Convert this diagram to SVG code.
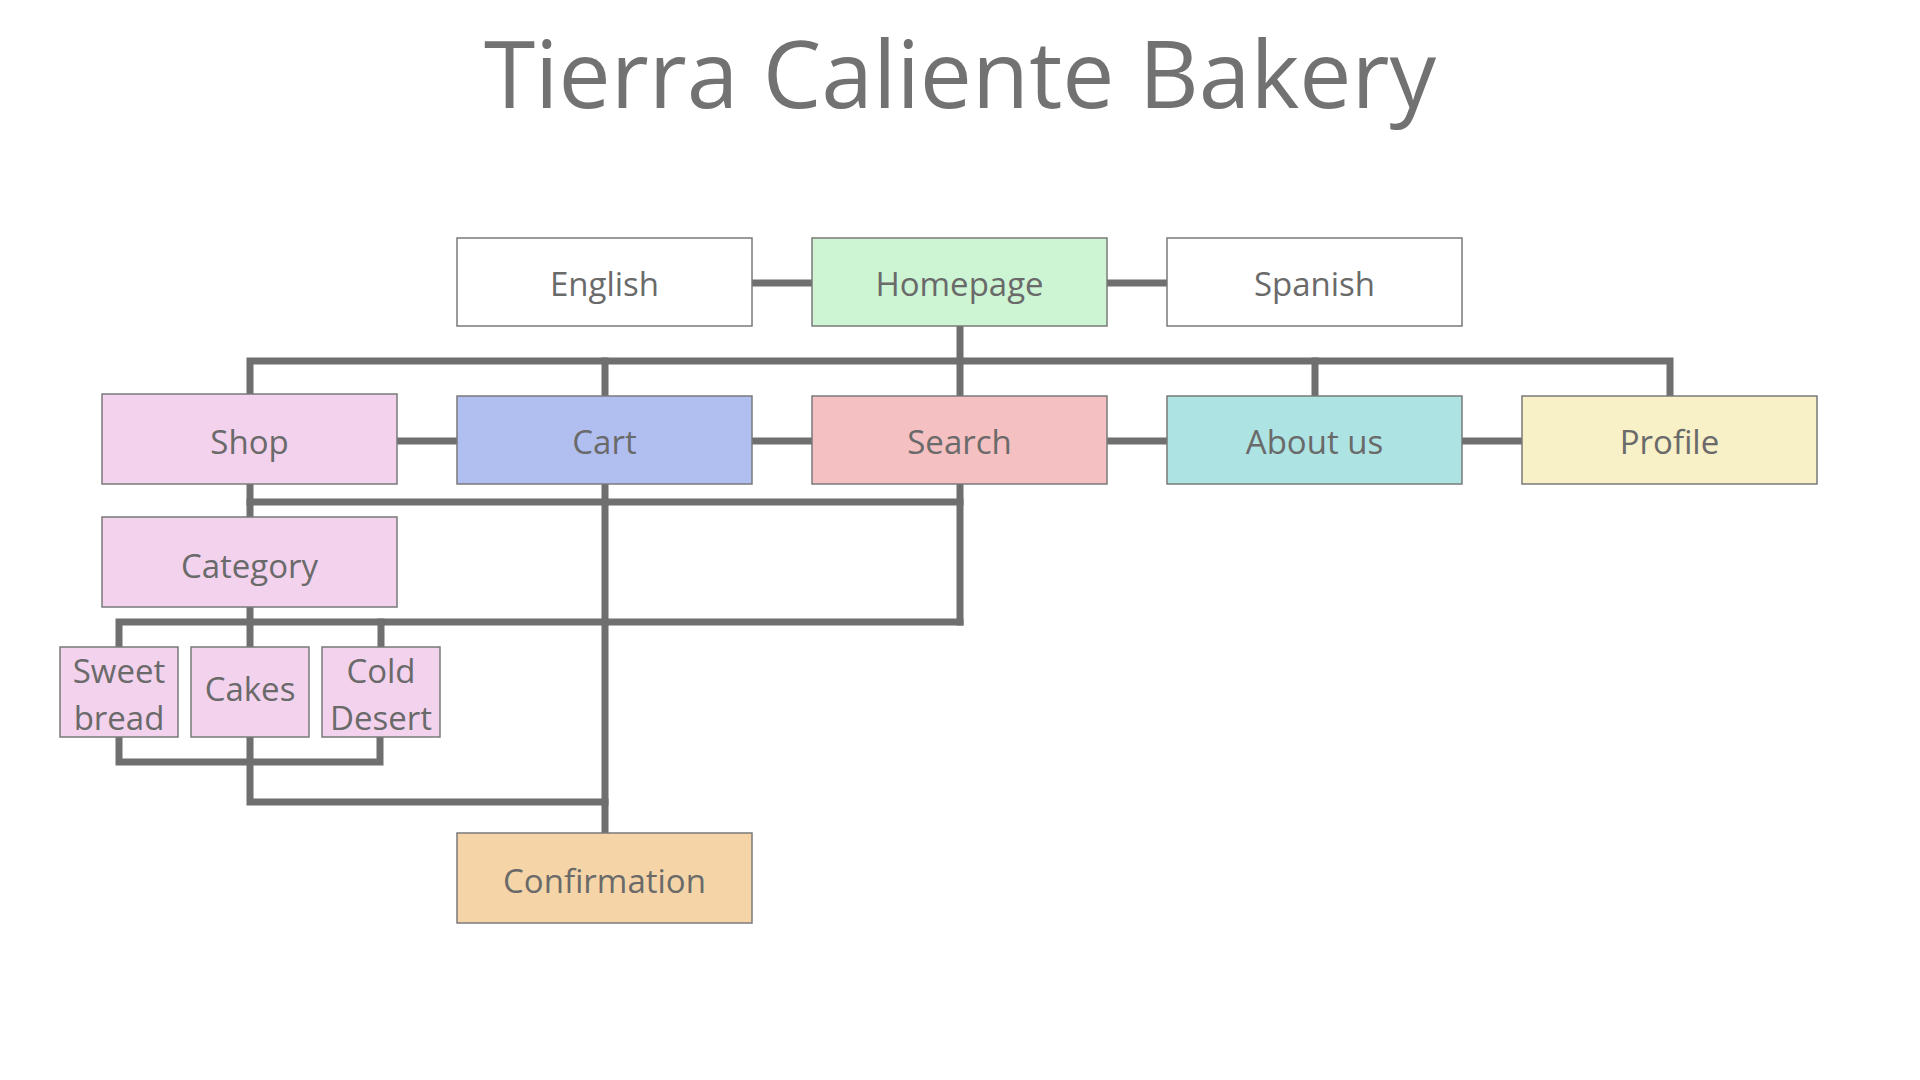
<svg xmlns="http://www.w3.org/2000/svg" width="1920" height="1080" viewBox="0 0 1920 1080">
<style>
.bg{fill:#ffffff}
.node rect{stroke:#7a7a7a;stroke-width:1.5}
.node text{font-family:"Open Sans","Noto Sans","Liberation Sans",sans-serif;font-size:33px;fill:#6a6a6a;text-anchor:middle;dominant-baseline:central}
.title{font-family:"Open Sans","Noto Sans","Liberation Sans",sans-serif;font-size:93px;fill:#727272;text-anchor:middle}
.conn{fill:none;stroke:#6f6f6f;stroke-width:7;stroke-linejoin:miter;stroke-linecap:square}
</style>
<rect class="bg" x="0" y="0" width="1920" height="1080"/>
<text class="title" x="960" y="108">Tierra Caliente Bakery</text>
<g id="connectors">
  <path class="conn" d="M752 283 H812"/>
  <path class="conn" d="M1107 283 H1167"/>
  <path class="conn" d="M960 326 V361"/>
  <path class="conn" d="M250 394 V361 H1670 V396"/>
  <path class="conn" d="M605 361 V396"/>
  <path class="conn" d="M960 361 V396"/>
  <path class="conn" d="M1315 361 V396"/>
  <path class="conn" d="M397 441 H457"/>
  <path class="conn" d="M752 441 H812"/>
  <path class="conn" d="M1107 441 H1167"/>
  <path class="conn" d="M1462 441 H1522"/>
  <path class="conn" d="M250 484 V517"/>
  <path class="conn" d="M250 502 H960"/>
  <path class="conn" d="M960 484 V622"/>
  <path class="conn" d="M605 484 V833"/>
  <path class="conn" d="M250 607 V647"/>
  <path class="conn" d="M119 647 V622 H960"/>
  <path class="conn" d="M381 622 V647"/>
  <path class="conn" d="M119 737 V762 H380 V737"/>
  <path class="conn" d="M250 737 V802 H605"/>
</g>
<g id="english" class="node"><rect x="457" y="238" width="295" height="88" fill="#ffffff"/><text x="604.5" y="283">English</text></g>
<g id="homepage" class="node"><rect x="812" y="238" width="295" height="88" fill="#cdf5d4"/><text x="959.5" y="283">Homepage</text></g>
<g id="spanish" class="node"><rect x="1167" y="238" width="295" height="88" fill="#ffffff"/><text x="1314.5" y="283">Spanish</text></g>
<g id="shop" class="node"><rect x="102" y="394" width="295" height="90" fill="#f3d2ed"/><text x="249.5" y="441">Shop</text></g>
<g id="cart" class="node"><rect x="457" y="396" width="295" height="88" fill="#b1bff0"/><text x="604.5" y="441">Cart</text></g>
<g id="search" class="node"><rect x="812" y="396" width="295" height="88" fill="#f4c0c1"/><text x="959.5" y="441">Search</text></g>
<g id="about" class="node"><rect x="1167" y="396" width="295" height="88" fill="#ade3e3"/><text x="1314.5" y="441">About us</text></g>
<g id="profile" class="node"><rect x="1522" y="396" width="295" height="88" fill="#f8f0c6"/><text x="1669.5" y="441">Profile</text></g>
<g id="category" class="node"><rect x="102" y="517" width="295" height="90" fill="#f3d2ed"/><text x="249.5" y="565">Category</text></g>
<g id="sweetbread" class="node"><rect x="60" y="647" width="118" height="90" fill="#f3d2ed"/><text x="119" y="670">Sweet</text><text x="119" y="717">bread</text></g>
<g id="cakes" class="node"><rect x="191" y="647" width="118" height="90" fill="#f3d2ed"/><text x="250" y="688">Cakes</text></g>
<g id="colddesert" class="node"><rect x="322" y="647" width="118" height="90" fill="#f3d2ed"/><text x="381" y="670">Cold</text><text x="381" y="717">Desert</text></g>
<g id="confirmation" class="node"><rect x="457" y="833" width="295" height="90" fill="#f5d5a7"/><text x="604.5" y="880">Confirmation</text></g>
</svg>
